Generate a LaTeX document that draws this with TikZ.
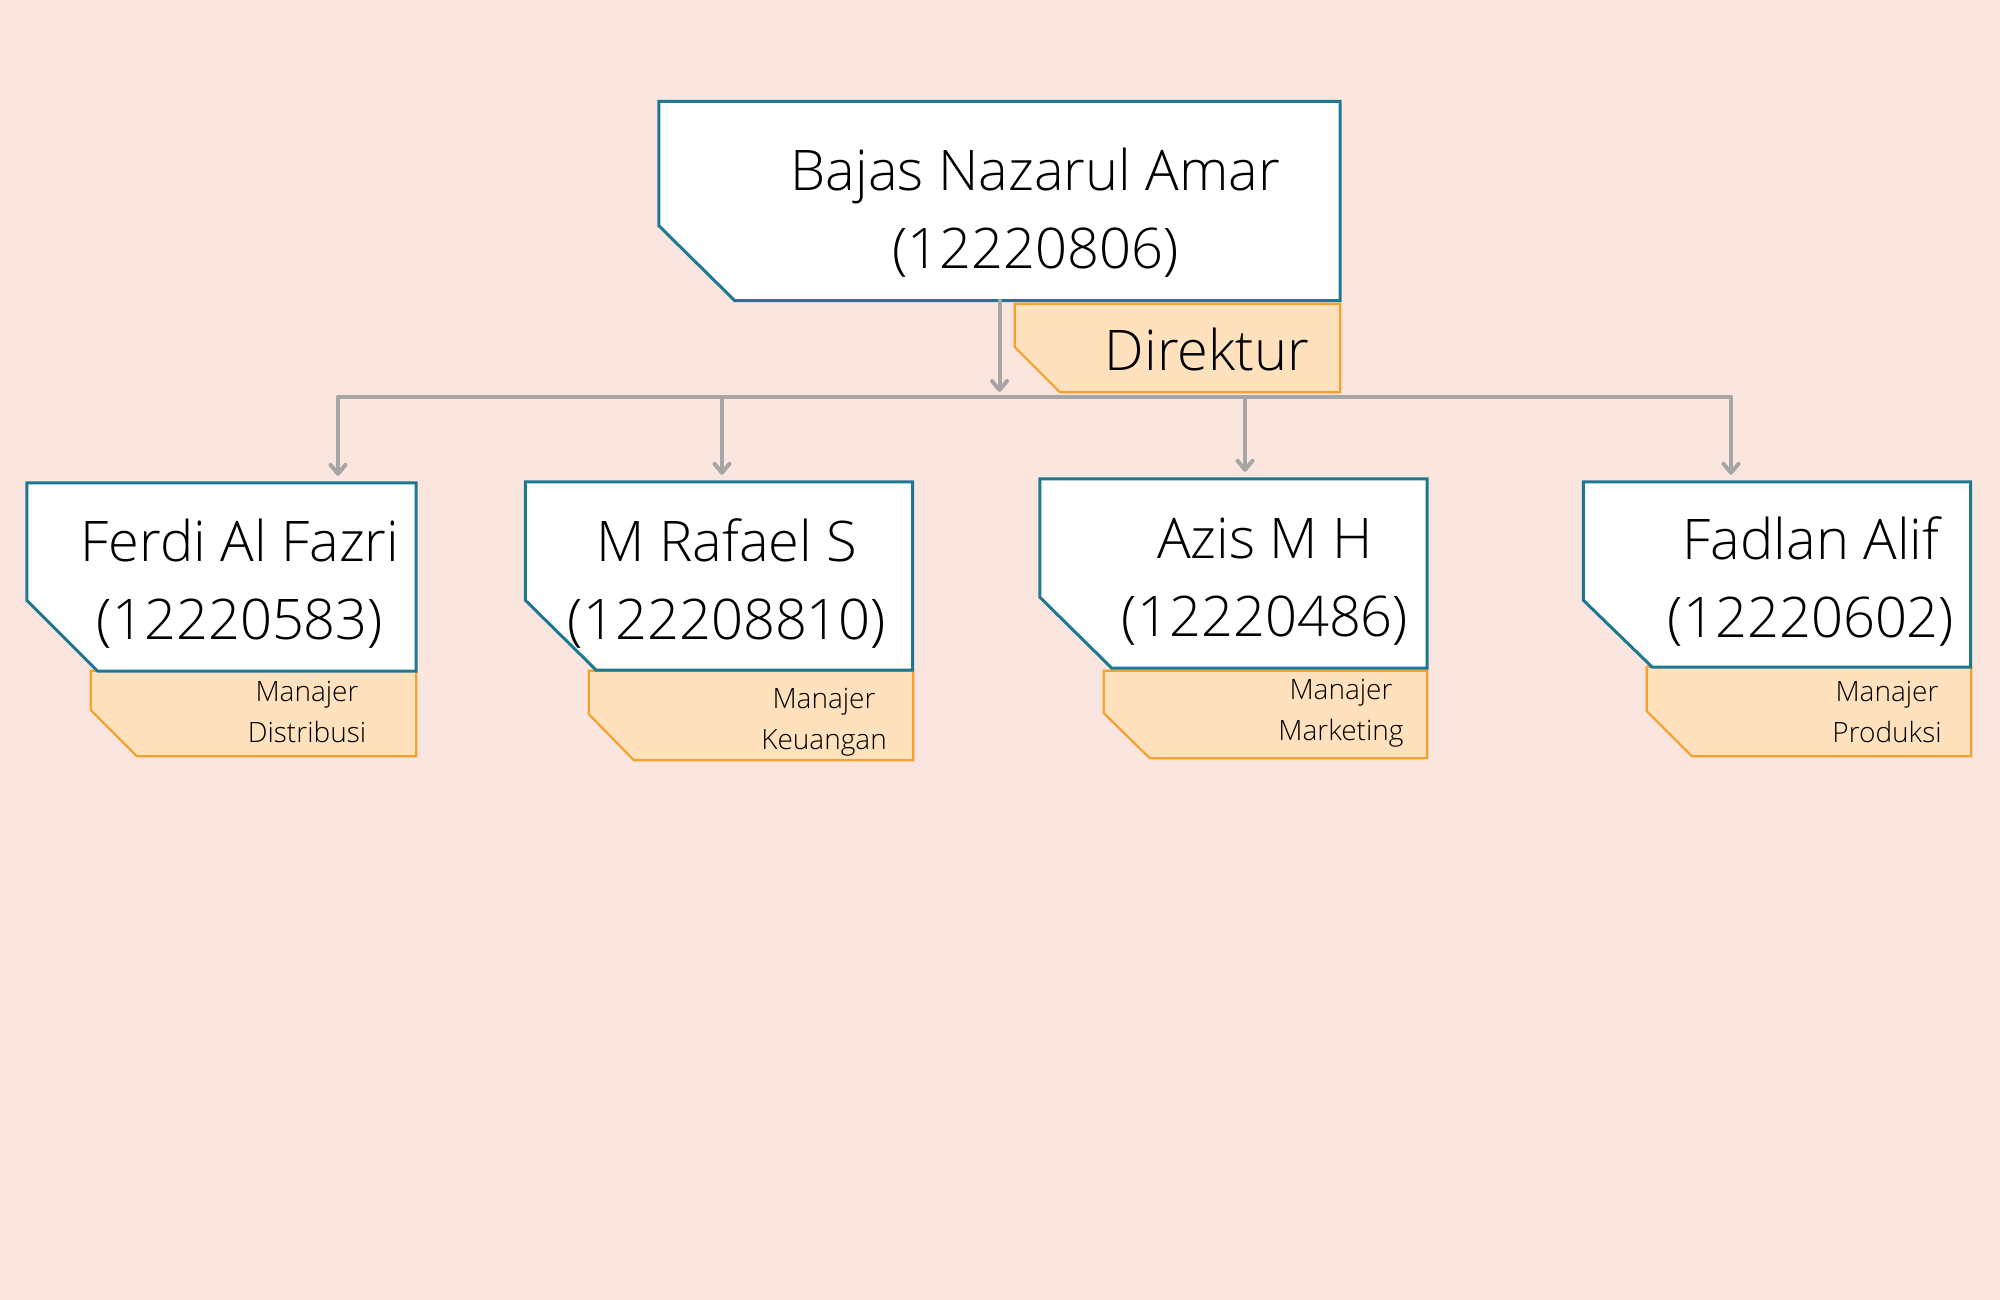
\documentclass[tikz,border=0pt]{standalone}
\usepackage{fontspec}
\setmainfont{Open Sans}[UprightFont=* Light]
\usetikzlibrary{arrows.meta}
\definecolor{orgBack}{HTML}{FAE6DF}
\definecolor{orgTeal}{HTML}{1F7893}
\definecolor{orgOrange}{HTML}{F7A02C}
\definecolor{orgRole}{HTML}{FFE1BD}
\definecolor{orgLine}{HTML}{A6A6A6}

\begin{document}
\begin{tikzpicture}[x=1pt,y=-1pt,
    boxsize/.style 2 args={minimum width=#1pt, minimum height=#2pt},
    cutbox/.style n args={3}{rectangle, inner sep=0pt, append after command={\pgfextra{
      \filldraw[#3] (\tikzlastnode.north west) -- (\tikzlastnode.north east)
        -- (\tikzlastnode.south east) -- ([xshift=#1pt]\tikzlastnode.south west)
        -- ([yshift=#2pt]\tikzlastnode.south west) -- cycle;}}},
    nameline/.style={draw=orgTeal, line width=3pt, fill=white},
    roleline/.style={draw=orgOrange, line width=2.2pt, fill=orgRole},
    namebox/.style 2 args={cutbox={#1}{#2}{nameline}},
    rolebox/.style 2 args={cutbox={#1}{#2}{roleline}},
    nametext/.style={align=center, font=\fontsize{56}{78}\selectfont, inner sep=0pt},
    roletext/.style={align=center, font=\fontsize{28}{41}\selectfont, inner sep=0pt},
    conn/.style={draw=orgLine, line width=4pt, line cap=round, line join=round},
    arr/.style={conn, -{Straight Barb[length=9pt,width=15pt,round]}, shorten >=7pt}
  ]
  \useasboundingbox (0,0) rectangle (2000,1300);
  \fill[orgBack] (0,0) rectangle (2000,1300);

  % director
  \node[rolebox={45}{45}, boxsize={325}{88}] (dirrole) at (1177.5,348) {};
  \node[namebox={76}{75}, boxsize={681}{199}] (direktur) at (999.5,201) {};
  \node[nametext] (direktur-text) at (1035.5,213) {Bajas Nazarul Amar\\(12220806)};
  \node[font=\fontsize{56}{60}\selectfont, anchor=base, inner sep=0pt] (dirrole-text) at (1207,370) {Direktur};

  % managers
  \node[rolebox={46}{46}, boxsize={325}{85}] (ferdirole) at (253.5,713.5) {};
  \node[namebox={71}{71}, boxsize={389}{188}] (ferdi) at (221.5,577) {};
  \node[nametext] (ferdi-text) at (240,584) {Ferdi Al Fazri\\(12220583)};
  \node[roletext] (ferdirole-text) at (307,711.5) {Manajer\\Distribusi};

  \node[rolebox={45}{46}, boxsize={324}{89}] (rafaelrole) at (751,715.5) {};
  \node[namebox={71}{70}, boxsize={387}{188}] (rafael) at (719,576) {};
  \node[nametext] (rafael-text) at (727,584) {M Rafael S\\(122208810)};
  \node[roletext] (rafaelrole-text) at (824,722) {Manajer\\Keuangan};

  \node[rolebox={46}{45}, boxsize={323}{87}] (azisrole) at (1265.5,714.5) {};
  \node[namebox={72}{71}, boxsize={387}{189}] (azis) at (1233.5,573.5) {};
  \node[nametext] (azis-text) at (1265,581.5) {Azis M H\\(12220486)};
  \node[roletext] (azisrole-text) at (1341,713.5) {Manajer\\Marketing};

  \node[rolebox={45}{45}, boxsize={324}{89}] (fadlanrole) at (1809,711.5) {};
  \node[namebox={69}{67}, boxsize={387}{185}] (fadlan) at (1777,574.5) {};
  \node[nametext] (fadlan-text) at (1811,581.5) {Fadlan Alif\\(12220602)};
  \node[roletext] (fadlanrole-text) at (1887,712) {Manajer\\Produksi};

  % connectors
  \coordinate (j1) at (338,397);
  \coordinate (j2) at (722,397);
  \coordinate (j3) at (1245,397);
  \coordinate (j4) at (1731,397);
  \draw[conn] (j1) -- (j4);
  \draw[arr, shorten >=5pt] (direktur.south) -- (direktur.south |- j1);
  \draw[arr] (j1) -- (j1 |- ferdi.north);
  \draw[arr] (j2) -- (j2 |- rafael.north);
  \draw[arr] (j3) -- (j3 |- azis.north);
  \draw[arr] (j4) -- (j4 |- fadlan.north);
\end{tikzpicture}
\end{document}
